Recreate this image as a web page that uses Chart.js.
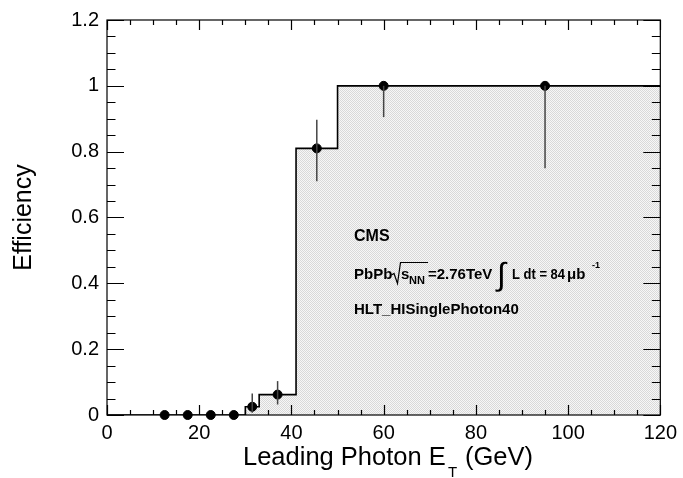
<!DOCTYPE html>
<html>
<head>
<meta charset="utf-8">
<script src="https://cdn.jsdelivr.net/npm/chart.js@4/dist/chart.umd.min.js"></script>
<style>
  html, body { margin: 0; padding: 0; background: #fff; }
  #wrap { width: 683px; height: 478px; }
</style>
</head>
<body>
<div id="wrap"><canvas id="eff"></canvas></div>
<script>
// histogram: bin edges and efficiency per bin
const binEdges = [0, 30, 33, 41, 50, 120]
const binEff = [0, 0.025, 0.062, 0.81, 1.0]

// measured points with asymmetric errors
const photonEt = [12.5, 17.5, 22.5, 27.5, 31.5, 37, 45.5, 60, 95]
const effValue = [0, 0, 0, 0, 0.025, 0.062, 0.81, 1, 1]
const errDown = [0, 0, 0, 0, 0.018, 0.03, 0.1, 0.095, 0.25]
const errUp = [0, 0, 0, 0, 0.04, 0.041, 0.087, 0, 0]

const xTicks = [0, 20, 40, 60, 80, 100, 120]
const yTicks = [0, 0.2, 0.4, 0.6, 0.8, 1, 1.2]

const FONT = '"Liberation Sans", Arial, sans-serif'

// one point per bin edge carrying the value of the bin that starts there
const histPoints = binEdges.map((e, i) => ({ x: e, y: binEff[Math.min(i, binEff.length - 1)] }))
const effPoints = photonEt.map((x, i) => ({ x: x, y: effValue[i] }))

// grey dotted fill like the ROOT style
function dotPattern() {
  const c = document.createElement('canvas')
  c.width = 2; c.height = 2
  const g = c.getContext('2d')
  g.fillStyle = '#f7f7f7'
  g.fillRect(0, 0, 2, 2)
  g.fillStyle = '#d9d9d9'
  g.fillRect(0, 0, 1, 1)
  g.fillRect(1, 1, 1, 1)
  return g.createPattern(c, 'repeat')
}

const frameTicks = {
  id: 'frameTicks',
  afterDatasetsDraw(chart) {
    const ctx = chart.ctx
    const xs = chart.scales.x, ys = chart.scales.y

    // error bars
    ctx.save()
    ctx.strokeStyle = '#444'
    ctx.lineWidth = 1.5
    photonEt.forEach((x, i) => {
      if (errUp[i] === 0 && errDown[i] === 0) return
      const px = xs.getPixelForValue(x)
      ctx.beginPath()
      ctx.moveTo(px, ys.getPixelForValue(effValue[i] + errUp[i]))
      ctx.lineTo(px, ys.getPixelForValue(effValue[i] - errDown[i]))
      ctx.stroke()
    })
    ctx.restore()
  },
  afterDraw(chart) {
    const ctx = chart.ctx
    const a = chart.chartArea
    const xs = chart.scales.x, ys = chart.scales.y
    ctx.save()
    ctx.strokeStyle = '#000'
    ctx.lineWidth = 1.2
    ctx.strokeRect(a.left, a.top, a.right - a.left, a.bottom - a.top)

    ctx.beginPath()
    for (let v = 0; v <= 120.001; v += 5) {
      const px = Math.round(xs.getPixelForValue(v)) + 0.5
      const len = (Math.abs(v % 20) < 0.01) ? 10 : 5
      ctx.moveTo(px, a.bottom); ctx.lineTo(px, a.bottom - len)
      ctx.moveTo(px, a.top); ctx.lineTo(px, a.top + len)
    }
    for (let k = 0; k <= 24; k++) {
      const v = k * 0.05
      const py = Math.round(ys.getPixelForValue(v)) + 0.5
      const len = (k % 4 === 0) ? 17 : 8.5
      ctx.moveTo(a.left, py); ctx.lineTo(a.left + len, py)
      ctx.moveTo(a.right, py); ctx.lineTo(a.right - len, py)
    }
    ctx.stroke()

    // x axis title with subscript
    ctx.fillStyle = '#000'
    ctx.textBaseline = 'alphabetic'
    ctx.textAlign = 'left'
    ctx.font = '25.5px ' + FONT
    ctx.fillText('Leading Photon E', 243, 465)
    ctx.font = '15px ' + FONT
    ctx.fillText('T', 448, 477)
    ctx.font = '25.5px ' + FONT
    ctx.fillText('(GeV)', 465, 465)

    // CMS label block
    ctx.font = 'bold 16px ' + FONT
    ctx.fillText('CMS', 354, 241)

    ctx.font = 'bold 15px ' + FONT
    ctx.fillText('PbPb', 354, 279)
    // radical sign over s_NN
    ctx.lineWidth = 1.2
    ctx.beginPath()
    ctx.moveTo(391.5, 275); ctx.lineTo(394, 273.5); ctx.lineTo(397.5, 283.5)
    ctx.lineTo(400.5, 262.5); ctx.lineTo(428, 262.5)
    ctx.stroke()
    ctx.fillText('s', 401, 279)
    ctx.font = 'bold 11px ' + FONT
    ctx.fillText('NN', 409, 284)
    ctx.font = 'bold 15px ' + FONT
    ctx.fillText('=2.76TeV', 428, 279)
    ctx.font = '32px ' + FONT
    ctx.fillText('\u222B', 497, 285)
    ctx.font = 'bold 15px ' + FONT
    ctx.fillText('L dt = 84', 512, 279, 53)
    ctx.fillText('\u03BCb', 567, 279)
    ctx.font = 'bold 9px ' + FONT
    ctx.fillText('-1', 592, 268)

    ctx.font = 'bold 15px ' + FONT
    ctx.fillText('HLT_HISinglePhoton40', 354, 314)
    ctx.restore()
  }
}

new Chart(document.getElementById('eff'), {
  type: 'scatter',
  data: {
    datasets: [
      {
        type: 'line',
        label: 'HLT_HISinglePhoton40',
        data: histPoints,
        stepped: 'before',
        borderColor: '#000',
        borderWidth: 1.6,
        backgroundColor: dotPattern(),
        fill: 'origin',
        pointRadius: 0,
        order: 2
      },
      {
        label: 'Efficiency',
        data: effPoints,
        backgroundColor: '#000',
        borderColor: '#000',
        pointRadius: 4.5,
        pointHoverRadius: 4.5,
        clip: false,
        order: 1
      }
    ]
  },
  options: {
    responsive: true,
    maintainAspectRatio: false,
    animation: false,
    events: [],
    layout: { padding: { top: 13, right: 17, left: 0, bottom: 0 } },
    plugins: { legend: { display: false }, tooltip: { enabled: false } },
    scales: {
      x: {
        type: 'linear',
        min: 0,
        max: 120,
        afterFit: s => { s.height = 63 },
        afterBuildTicks: s => { s.ticks = xTicks.map(v => ({ value: v })) },
        grid: { display: false, drawTicks: false },
        border: { display: false },
        ticks: { color: '#000', font: { size: 20, family: FONT }, padding: 6, maxRotation: 0 }
      },
      y: {
        min: 0,
        max: 1.2,
        afterFit: s => { s.width = 107 },
        afterBuildTicks: s => { s.ticks = yTicks.map(v => ({ value: v })) },
        grid: { display: false, drawTicks: false },
        border: { display: false },
        title: {
          display: true,
          text: 'Efficiency',
          color: '#000',
          font: { size: 25, family: FONT },
          padding: { top: 9, bottom: 0 }
        },
        ticks: {
          color: '#000',
          font: { size: 20, family: FONT },
          padding: 8,
          callback: v => String(Math.round(v * 10) / 10)
        }
      }
    }
  },
  plugins: [frameTicks]
})
</script>
</body>
</html>
